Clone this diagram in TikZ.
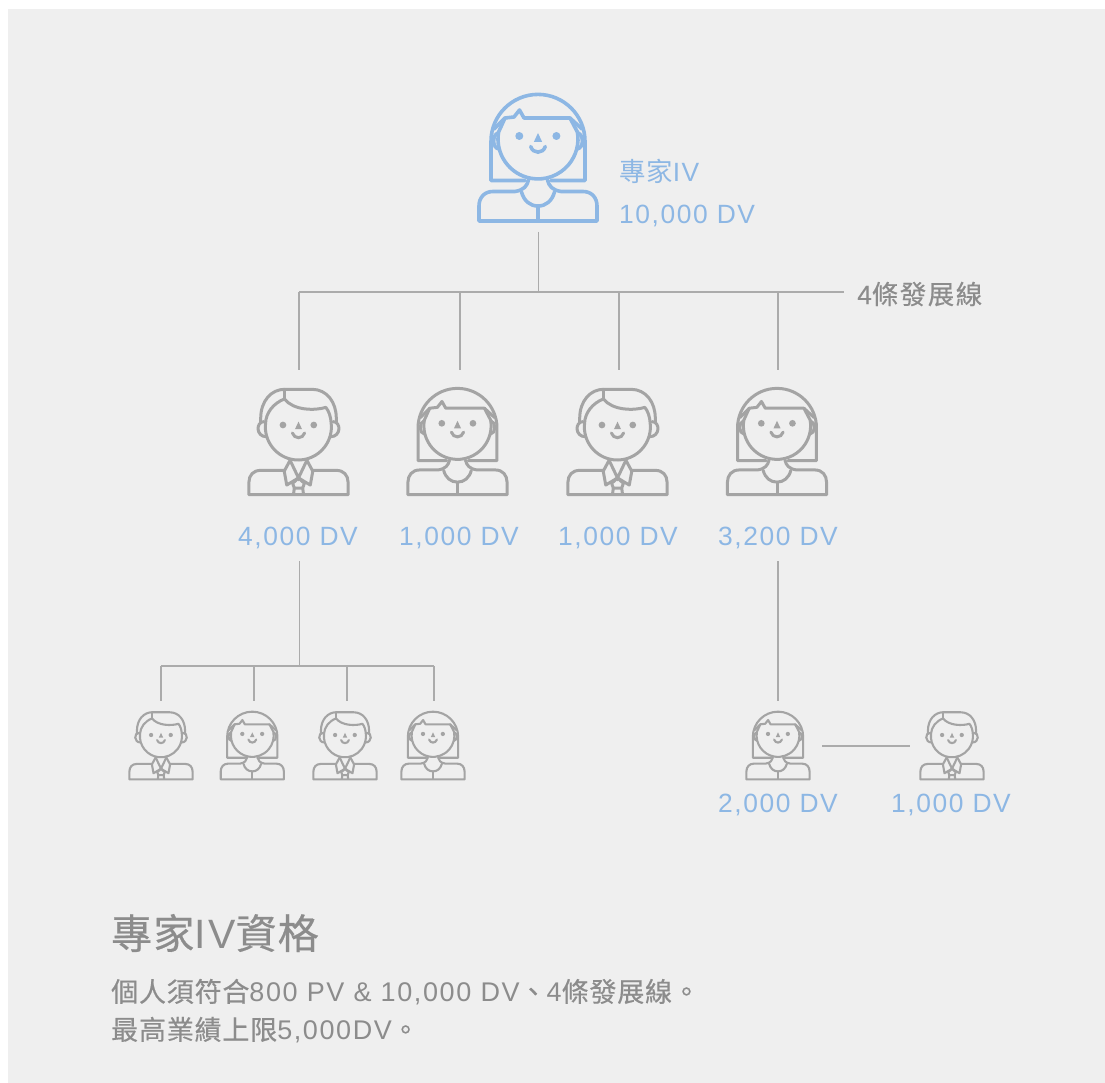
\documentclass[tikz,border=0pt]{standalone}
\usepackage{fontspec}
\setmainfont{Liberation Sans}
\newfontfamily\latsp[LetterSpace=6]{Liberation Sans}
\newfontfamily\zhf[LetterSpace=3]{Noto Sans CJK TC}
\newfontfamily\zhm[LetterSpace=3,FakeBold=0.5]{Noto Sans CJK TC}
\newfontfamily\zhw[LetterSpace=6,FakeBold=0.5]{Noto Sans CJK TC}
\newfontfamily\latm[LetterSpace=6,FakeBold=0.35]{Liberation Sans}
\newcommand{\zh}[1]{{\zhf #1}}
\newcommand{\zb}[1]{{\zhm #1}}
\newcommand{\zw}[1]{{\zhw #1}}
\definecolor{bgc}{HTML}{EFEFEF}
\definecolor{bluec}{HTML}{8DB7E4}
\definecolor{iconc}{HTML}{A4A4A4}
\definecolor{linec}{HTML}{ABABAB}
\definecolor{textc}{HTML}{8C8C8C}
\tikzset{
  conn/.style={draw=linec,line width=1.2pt},
  dvlabel/.style={text=bluec,font=\fontsize{26.4}{30}\latsp,inner sep=0pt},
  bluelabel/.style={text=bluec,font=\fontsize{26.4}{30}\latsp,inner sep=0pt,anchor=west},
  graylabel/.style={text=textc,inner sep=0pt,anchor=west},
  woman/.pic={
    \draw[line join=round,line cap=round]
      (-39.4,-6) arc[start angle=190,end angle=-10,radius=40]
      -- (32,-20) -- (-14,-20) -- (-18.5,-28) -- (-24,-21) -- (-33,-20) -- cycle;
    \draw[line join=round,line cap=round]
      (-13,42.5) -- (-47,42.5) -- (-47,3.4) arc[start angle=180,end angle=360,radius=47] -- (47,42.5) -- (13,42.5);
    \draw[line cap=round] (-44,-9) -- (-33,-20);
    \draw[line cap=round] (44,-9) -- (32,-20);
    \draw[line cap=round] (-40,-5) .. controls (-46,-3) and (-46,10) .. (-39,11);
    \draw[line cap=round] (40,-5) .. controls (46,-3) and (46,10) .. (39,11);
    \fill (-18.7,-2) circle[radius=4] (18.4,-2) circle[radius=4];
    \fill (0,-5) -- (-4.2,4) -- (4.2,4) -- cycle;
    \draw[line cap=round] (-7.3,8.5) .. controls (-5,16) and (5,16) .. (7.3,8.5);
    \draw[line join=round,line cap=round]
      (-9.5,42) .. controls (-11,48) and (-14,52) .. (-23,53.5) -- (-45,53.5)
      .. controls (-54,53.5) and (-59,60) .. (-59,68) -- (-59,83) -- (59,83) -- (59,68)
      .. controls (59,60) and (54,53.5) .. (45,53.5) -- (23,53.5)
      .. controls (14,52) and (11,48) .. (9.5,42);
    \draw[line cap=round]
      (-16.5,54) .. controls (-14,63) and (-8,68) .. (0,68) .. controls (8,68) and (14,63) .. (16.5,54);
    \draw (0,68) -- (0,83);
  },
  man/.pic={
    \draw[line join=round,line cap=round]
      (-39.2,-2) arc[start angle=186.4,end angle=-6.4,radius=39.3]
      .. controls (38.5,-10) and (36,-17) .. (32.5,-21)
      .. controls (20,-17) and (-6,-17) .. (-16.7,-31)
      .. controls (-30,-26) and (-39,-14) .. (-39.2,-2);
    \draw[line join=round,line cap=round]
      (-45,-3) -- (-45,-8) .. controls (-45,-29) and (-32,-42.5) .. (-16.7,-42.5)
      -- (16,-42.5) .. controls (34,-42.5) and (45,-27) .. (45,-8) -- (45,-3);
    \draw[line cap=round] (-16.7,-42.5) -- (-16.7,-31);
    \draw[line cap=round] (-41,-4) .. controls (-51,-4) and (-51,14) .. (-38,14);
    \draw[line cap=round] (41,-4) .. controls (51,-4) and (51,14) .. (38,14);
    \fill (-18.5,0) circle[radius=4] (18.2,0) circle[radius=4];
    \fill (0,-4) -- (-4.2,5) -- (4.2,5) -- cycle;
    \draw[line cap=round] (-7.3,9.5) .. controls (-5,17) and (5,17) .. (7.3,9.5);
    \draw[line join=round,line cap=round]
      (-17,54) -- (-45,54) .. controls (-54,54) and (-59,60) .. (-59,68) -- (-59,83) -- (59,83) -- (59,68)
      .. controls (59,60) and (54,54) .. (45,54) -- (17,54);
    \draw[line join=round,line cap=round]
      (-10,42) -- (-17,55) -- (-14,71.5) -- (0,63) -- (14,71.5) -- (17,55) -- (10,42);
    \draw[line cap=round] (-10,42) -- (0,63) -- (10,42);
    \draw[line join=round]
      (-6,83) -- (-5,75) -- (-7,69.5) -- (0,63) -- (7,69.5) -- (5,75) -- (6,83) (-5,75) -- (5,75);
  },
}
\begin{document}
\begin{tikzpicture}[x=1pt,y=-1pt]
\useasboundingbox (0,0) rectangle (1105,1083);
\fill[bgc] (8,9) rectangle (1105,1083);

% icons
\pic[color=bluec,line width=3.6pt] at (538,138) {woman};
\foreach \xx/\kind in {298.5/man,457.5/woman,617.5/man,777/woman}
  \pic[color=iconc,line width=3pt,scale=.84] at (\xx,425) {\kind};
\foreach \xx/\kind in {161/man,252.3/woman,345/man,433/woman,778/woman,952/man}
  \pic[color=iconc,line width=2.1pt,scale=.535] at (\xx,735) {\kind};

% texts
\node[bluelabel] (t1) at (619,171) {\zh{專家}IV};
\node[bluelabel] (t2) at (619,216) {10,000 DV};
\node[graylabel,font=\fontsize{26.4}{30}\latm] (t3) at (857,294) {4\zw{條發展線}};
\node[dvlabel] (a1) at (298,538) {4,000 DV};
\node[dvlabel] (a2) at (459,538) {1,000 DV};
\node[dvlabel] (a3) at (618,538) {1,000 DV};
\node[dvlabel] (a4) at (778,538) {3,200 DV};
\node[dvlabel] (b1) at (778,805) {2,000 DV};
\node[dvlabel] (b2) at (951,805) {1,000 DV};
\node[graylabel,font=\fontsize{41}{46}\latsp] (h) at (111,933) {\zb{專家}IV\zb{資格}};
\node[graylabel,font=\fontsize{27}{32}\latsp] (l1) at (111,992) {\zb{個人須符合}800 PV \& 10,000 DV\zb{、}4\zb{條發展線。}};
\node[graylabel,font=\fontsize{27}{32}\latsp] (l2) at (111,1030) {\zb{最高業績上限}5,000DV\zb{。}};

% connector anchors
\coordinate (top) at (538.5,232);
\coordinate (hub) at (538.5,292);
\coordinate (hl) at (299,292);
\coordinate (hr) at (844,292);
\foreach \n/\xx in {d1/299,d2/460,d3/619,d4/778}{
  \coordinate (\n t) at (\xx,292);
  \coordinate (\n b) at (\xx,370);
}
\coordinate (s1) at (299.5,561);
\coordinate (s1m) at (299.5,666);
\coordinate (e1t) at (161,666);
\coordinate (e2t) at (254,666);
\coordinate (e3t) at (347,666);
\coordinate (e4t) at (434,666);
\coordinate (e1b) at (161,701);
\coordinate (e2b) at (254,701);
\coordinate (e3b) at (347,701);
\coordinate (e4b) at (434,701);
\coordinate (s2) at (778,561);
\coordinate (s2b) at (778,701);
\coordinate (p1) at (822,746);
\coordinate (p2) at (910,746);

\draw[conn] (top) -- (hub);
\draw[conn] (hl) -- (hr);
\foreach \n in {d1,d2,d3,d4} \draw[conn] (\n t) -- (\n b);
\draw[conn] (s1) -- (s1m);
\draw[conn] (e1t) -- (e4t);
\foreach \n in {e1,e2,e3,e4} \draw[conn] (\n t) -- (\n b);
\draw[conn] (s2) -- (s2b);
\draw[conn] (p1) -- (p2);
\end{tikzpicture}
\end{document}
